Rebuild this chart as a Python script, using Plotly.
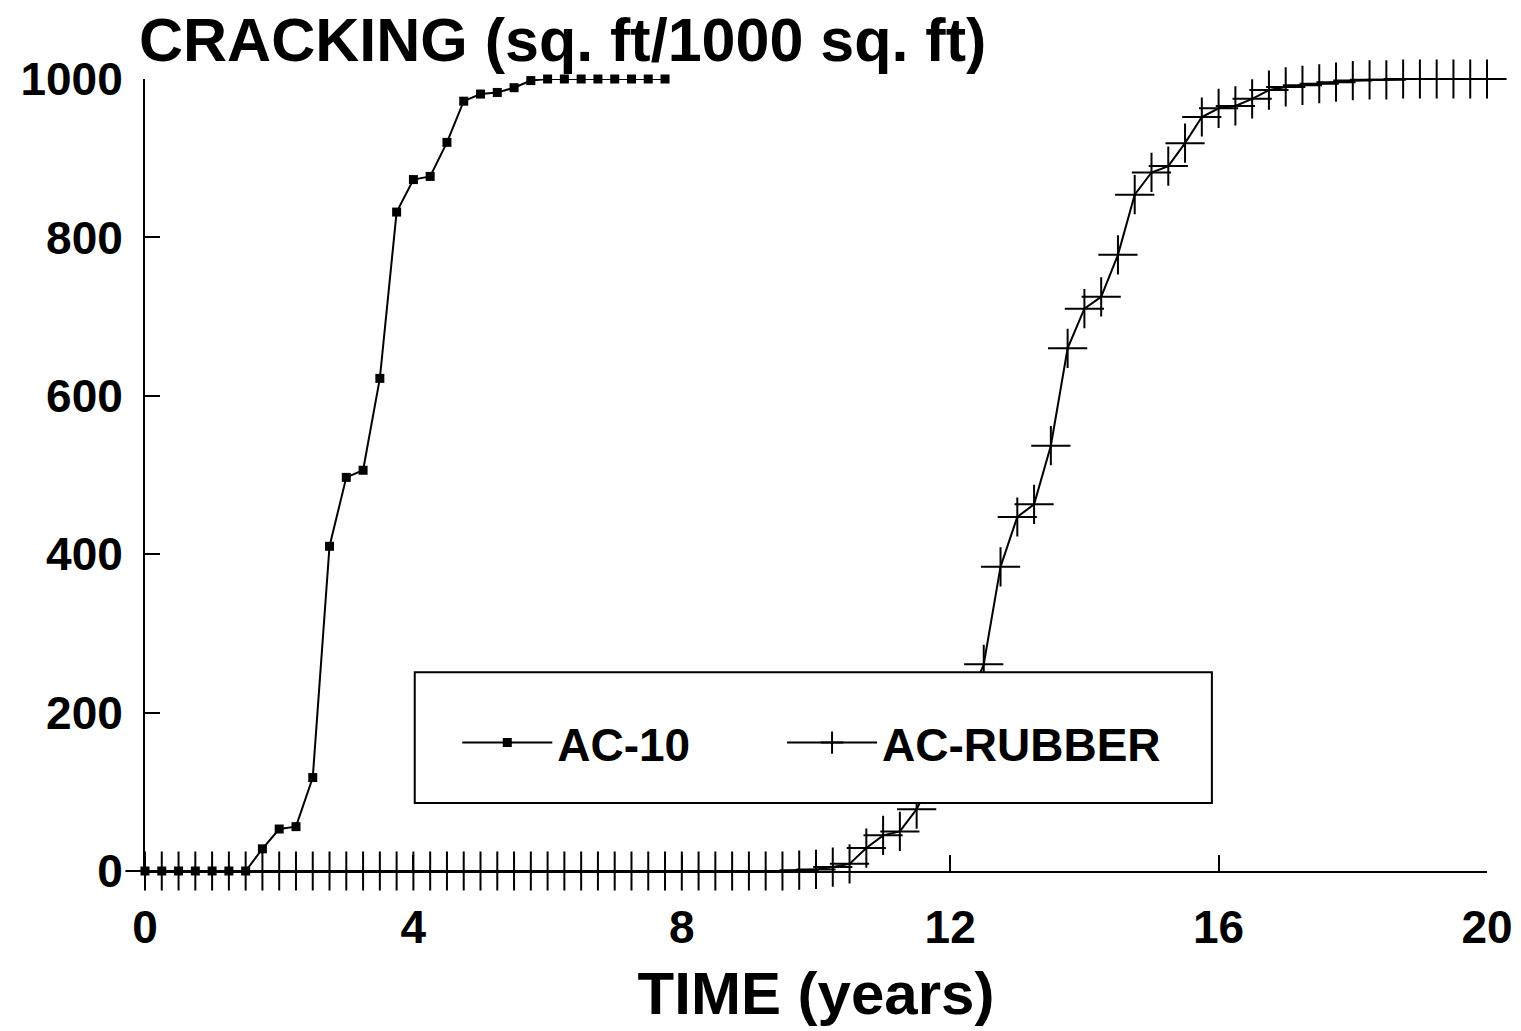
import plotly.graph_objects as go

# ---------------- data ----------------
ac10_years = [0.0, 0.25, 0.5, 0.75, 1.0, 1.25, 1.5, 1.75, 2.0, 2.25, 2.5, 2.75,
              3.0, 3.25, 3.5, 3.75, 4.0, 4.25, 4.5, 4.75, 5.0, 5.25, 5.5, 5.75,
              6.0, 6.25, 6.5, 6.75, 7.0, 7.25, 7.5, 7.75]
ac10_cracking = [0, 0, 0, 0, 0, 0, 0, 28, 53, 56, 118, 410,
                 497, 506, 622, 832, 873, 877, 920, 972, 981, 983, 989, 998,
                 1000, 1000, 1000, 1000, 1000, 1000, 1000, 1000]

rubber_years = [0.0, 0.25, 0.5, 0.75, 1.0, 1.25, 1.5, 1.75, 2.0, 2.25, 2.5, 2.75,
                3.0, 3.25, 3.5, 3.75, 4.0, 4.25, 4.5, 4.75, 5.0, 5.25, 5.5, 5.75,
                6.0, 6.25, 6.5, 6.75, 7.0, 7.25, 7.5, 7.75, 8.0, 8.25, 8.5, 8.75,
                9.0, 9.25, 9.5, 9.75, 10.0, 10.25, 10.5, 10.75, 11.0, 11.25, 11.5, 11.75,
                12.0, 12.25, 12.5, 12.75, 13.0, 13.25, 13.5, 13.75, 14.0, 14.25, 14.5, 14.75,
                15.0, 15.25, 15.5, 15.75, 16.0, 16.25, 16.5, 16.75, 17.0, 17.25, 17.5, 17.75,
                18.0, 18.25, 18.5, 18.75, 19.0, 19.25, 19.5, 19.75, 20.0]
rubber_cracking = [0, 0, 0, 0, 0, 0, 0, 0, 0, 0, 0, 0,
                   0, 0, 0, 0, 0, 0, 0, 0, 0, 0, 0, 0,
                   0, 0, 0, 0, 0, 0, 0, 0, 0, 0, 0, 0,
                   0, 0, 0, 1, 2, 5, 9, 29, 45, 50, 78, 120,
                   165, 210, 261, 384, 447, 463, 537, 660, 710, 725, 778, 854,
                   882, 890, 919, 952, 963, 966, 975, 986, 990, 992, 994, 996,
                   998, 999, 999, 1000, 1000, 1000, 1000, 1000, 1000]

x_ticks = [0, 4, 8, 12, 16, 20]
y_ticks = [0, 200, 400, 600, 800, 1000]

title_text = "CRACKING (sq. ft/1000 sq. ft)"
x_title = "TIME (years)"
series_names = ["AC-10", "AC-RUBBER"]

FONT = "Liberation Sans, Arial, sans-serif"


def bold(size):
    return dict(family=FONT, size=size, color="black", weight="bold")


fig = go.Figure()
fig.add_trace(go.Scatter(
    x=ac10_years, y=ac10_cracking, name=series_names[0],
    mode="lines+markers", cliponaxis=False, legend="legend",
    line=dict(color="black", width=2),
    marker=dict(symbol="square", size=9, color="black"),
))
fig.add_trace(go.Scatter(
    x=rubber_years, y=rubber_cracking, name=series_names[1],
    mode="lines+markers", cliponaxis=False, legend="legend2",
    line=dict(color="black", width=2),
    marker=dict(symbol="cross-thin", size=28, color="black",
                line=dict(color="black", width=2)),
))

# legend frame (opaque, hides the curve behind it)
fig.add_shape(type="rect", xref="paper", yref="paper",
              x0=0.201, x1=0.795, y0=0.086, y1=0.251,
              line=dict(color="black", width=2), fillcolor="white",
              layer="above")

fig.add_annotation(text=title_text, xref="paper", yref="paper",
                   x=0, y=1, xanchor="left", yanchor="middle",
                   xshift=-8, yshift=39, showarrow=False,
                   font=bold(61))

legend_common = dict(orientation="h", y=0.162, xanchor="left", yanchor="middle",
                     bgcolor="rgba(0,0,0,0)", borderwidth=0, itemwidth=90,
                     font=bold(46))

fig.update_layout(
    width=1521, height=1031,
    margin=dict(l=145, r=34, t=79, b=160),
    paper_bgcolor="white", plot_bgcolor="white",
    font=dict(family=FONT, color="black"),
    showlegend=True,
    legend=dict(x=0.2327, **legend_common),
    legend2=dict(x=0.4747, **legend_common),
    xaxis=dict(range=[0, 20], tickvals=x_ticks, ticks="inside", ticklen=16,
               tickwidth=2, tickcolor="black", showline=True, linecolor="black",
               linewidth=2, showgrid=False, zeroline=False, automargin=False,
               tickfont=bold(46), ticklabelstandoff=15,
               title=dict(text=x_title, standoff=20, font=bold(60))),
    yaxis=dict(range=[0, 1000], tickvals=y_ticks, ticks="inside", ticklen=15,
               tickwidth=2, tickcolor="black", showline=True, linecolor="black",
               linewidth=2, showgrid=False, zeroline=False, automargin=False,
               tickfont=bold(46), ticklabelstandoff=11),
)

# remove the browser's default 8px page margin so the figure fills the window
fig.write_html("out.html",
               config={"displayModeBar": False},
               post_script="document.body.style.margin='0';")
